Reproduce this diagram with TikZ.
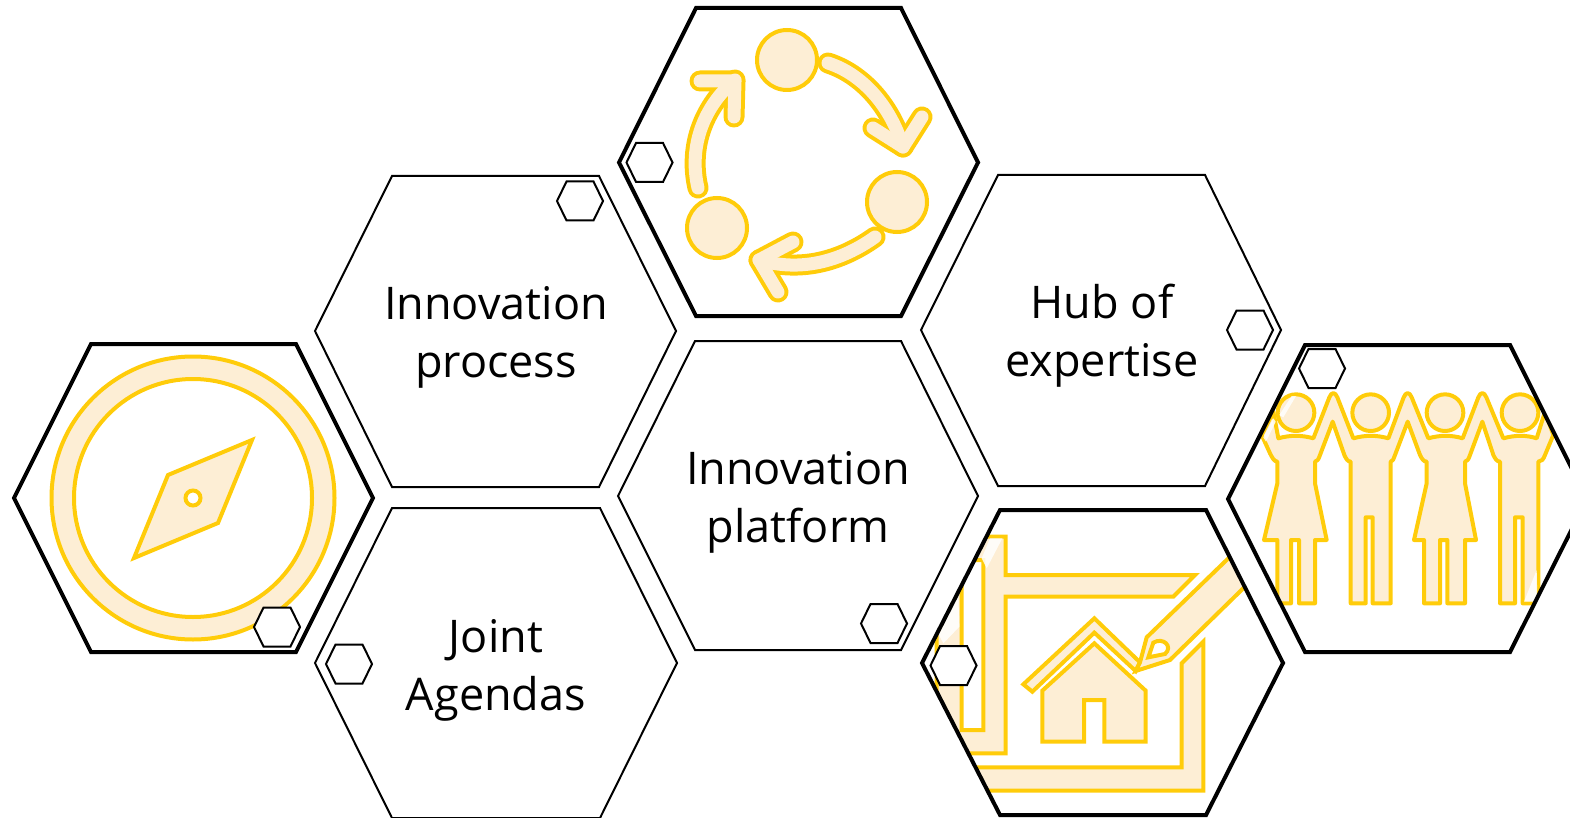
\documentclass[tikz,border=0pt]{standalone}
\usepackage{fontspec}
\setmainfont{Open Sans}
\definecolor{icony}{HTML}{FFCC0A}
\definecolor{iconf}{HTML}{FDEED5}
\tikzset{
 hexthin/.style={draw=black,line width=2pt,line join=miter,fill=white},
 hexthick/.style={draw=black,line width=4pt,line join=miter},
 hexsmall/.style={draw=black,line width=2pt,line join=miter,fill=white},
 icon/.style={draw=icony,fill=iconf,line width=4pt,line join=miter},
 gloss/.style={fill=white,fill opacity=.85,draw=none},
 label/.style={font=\fontsize{45}{58}\selectfont,align=center,inner sep=0pt,text=black},
 zoomed/.style={x=0.33333pt,y=-0.33333pt},
 arrowback/.style={draw=icony,line width=21pt,line cap=round,line join=round},
 arrowfront/.style={draw=iconf,line width=13pt,line cap=round,line join=round},
}
\newcommand{\smallhex}[2]{\draw[hexsmall] (#1-23,#2) -- (#1-13.5,#2-19.5) -- (#1+13.5,#2-19.5) -- (#1+23,#2) -- (#1+13.5,#2+19.5) -- (#1-13.5,#2+19.5) -- cycle;}
\begin{document}
\begin{tikzpicture}[x=1pt,y=-1pt]
\useasboundingbox (0,0) rectangle (1570,818);
\begin{scope}
\clip (0,0) rectangle (1570,818);
% thin hexagons
\draw[hexthin] (315,331)--(392,176)--(599,176)--(676,331)--(599,487)--(392,487)--cycle;
\draw[hexthin] (921,330)--(998,175)--(1205,175)--(1281,330)--(1205,486)--(998,486)--cycle;
\draw[hexthin] (618,496)--(695,341)--(901,341)--(978,496)--(901,650)--(695,650)--cycle;
\draw[hexthin] (315,663)--(392,508)--(600,508)--(677,663)--(600,818)--(392,818)--cycle;
% compass
\draw[icon,even odd rule] (193,498) circle (141.5) (193,498) circle (119);
\draw[icon,even odd rule] (252,440)--(168,475)--(134,558)--(218,523)--cycle (193,498) circle (7.5);
\draw[hexthick] (14,498)--(91,344)--(296,344)--(373,498)--(296,652)--(91,652)--cycle;
% cycle
\foreach \c in {(787,60),(897,202),(717,228)} \draw[icon] \c circle (30);
\foreach \s in {arrowback,arrowfront}{
 \draw[\s] (828,63) .. controls (862,74) and (890,105) .. (903,147);
 \draw[\s] (873,128) -- (903,147) -- (922,117);
 \draw[\s] (875,237) .. controls (840,262) and (800,272) .. (759,260);
 \draw[\s] (793,242) -- (759,260) -- (778,292);
 \draw[\s] (698,188) .. controls (688,145) and (705,105) .. (735,80);
 \draw[\s] (700,81) -- (735,81) -- (734,117);
}
\draw[hexthick] (619,162.5)--(696,8)--(901,8)--(978,162.5)--(901,316)--(696,316)--cycle;
% house
\begin{scope}
\clip (922,663)--(1000,510)--(1206,510)--(1283,663)--(1206,815)--(1000,815)--cycle;
\begin{scope}[shift={(915,500)},zoomed]
\draw[icon,even odd rule] (65,110)--(272,110)--(272,225)--(840,225)--(775,290)--(272,290)--(272,760)--(65,760)--cycle
 (140,180)--(205,180)--(205,690)--(140,690)--cycle;
\draw[icon] (865,425)--(800,490)--(800,802)--(100,802)--(100,872)--(865,872)--cycle;
\draw[icon] (325,553)--(538,355)--(675,487)--(662,513)--(538,398)--(352,575)--cycle;
\draw[icon,even odd rule] (695,412)--(940,175)--(1000,175)--(1000,250)--(765,480)--(662,513)--(675,487)--cycle
 (700,472)--(715,428) .. controls (745,410) and (775,440) .. (750,462)--cycle;
\draw[icon] (382,572)--(538,430)--(692,572)--(692,725)--(568,725)--(568,600)--(507,600)--(507,725)--(382,725)--cycle;
\fill[gloss] (225,115)--(262,115)--(215,205)--(200,175)--cycle;
\fill[gloss] (130,285)--(133,380)--(85,430)--(72,405)--cycle;
\end{scope}
\end{scope}
\draw[hexthick] (922,663)--(1000,510)--(1206,510)--(1283,663)--(1206,815)--(1000,815)--cycle;
% people
\begin{scope}
\clip (1228,499)--(1305,345)--(1510,345)--(1587,499)--(1510,652)--(1305,652)--cycle;
\begin{scope}[shift={(1220,340)},zoomed]
\draw[icon,line join=round] (125,285)--(160,215)--(175,295) .. controls (210,285) and (245,285) .. (280,295)
 --(328,172) .. controls (335,155) and (345,155) .. (352,172) --(400,295) .. controls (435,285) and (470,285) .. (505,295)
 --(551,172) .. controls (558,155) and (568,155) .. (575,172) --(625,295) .. controls (660,285) and (695,285) .. (728,295)
 --(775,172) .. controls (782,155) and (792,155) .. (799,172) --(850,295) .. controls (885,285) and (920,285) .. (950,295)
 --(975,215)--(1000,285)--(975,345) .. controls (970,358) and (965,365) .. (955,365)
 --(955,790)--(908,790)--(908,532)--(885,532)--(885,790)--(840,790)--(840,365) .. controls (830,365) and (825,355) .. (820,345)
 --(787,245)--(750,345) .. controls (745,358) and (742,365) .. (735,365)
 --(735,430)--(768,600)--(735,600)--(735,790)--(682,790)--(682,600)--(660,600)--(660,790)--(612,790)--(612,600)--(582,600)--(620,430)--(620,365)
 .. controls (610,365) and (605,355) .. (600,345) --(563,245)--(525,345) .. controls (520,358) and (518,365) .. (512,365)
 --(512,790)--(458,790)--(458,532)--(437,532)--(437,790)--(392,790)--(392,365) .. controls (382,365) and (378,355) .. (373,345)
 --(338,245)--(300,345) .. controls (295,358) and (292,365) .. (285,365)
 --(285,430)--(320,600)--(285,600)--(285,790)--(237,790)--(237,600)--(213,600)--(213,790)--(172,790)--(172,600)--(132,600)--(172,430)--(172,365)
 .. controls (162,365) and (155,350) .. (150,340) --cycle;
\foreach \x in {228,452,675,900} \draw[icon] (\x,218) circle (55);
\fill[gloss] (130,292)--(160,235)--(167,245)--(138,305)--cycle;
\fill[gloss] (178,225)--(215,168)--(228,168)--(190,232)--cycle;
\fill[gloss] (912,785)--(950,690)--(952,785)--cycle;
\end{scope}
\end{scope}
\draw[hexthick] (1228,499)--(1305,345)--(1510,345)--(1587,499)--(1510,652)--(1305,652)--cycle;
% small hexagons
\smallhex{580}{201}
\smallhex{649.5}{162.5}
\smallhex{1250}{330}
\smallhex{1322}{368.5}
\smallhex{884}{623.5}
\smallhex{277}{627}
\smallhex{349}{664}
\smallhex{953.5}{665.5}
\end{scope}
% labels
\node[label] (process) at (496,337) {Innovation\\process};
\node[label] (hub) at (1102,336) {Hub of\\expertise};
\node[label] (platform) at (798,502) {Innovation\\platform};
\node[label] (joint) at (496,670) {Joint\\Agendas};
\end{tikzpicture}
\end{document}
